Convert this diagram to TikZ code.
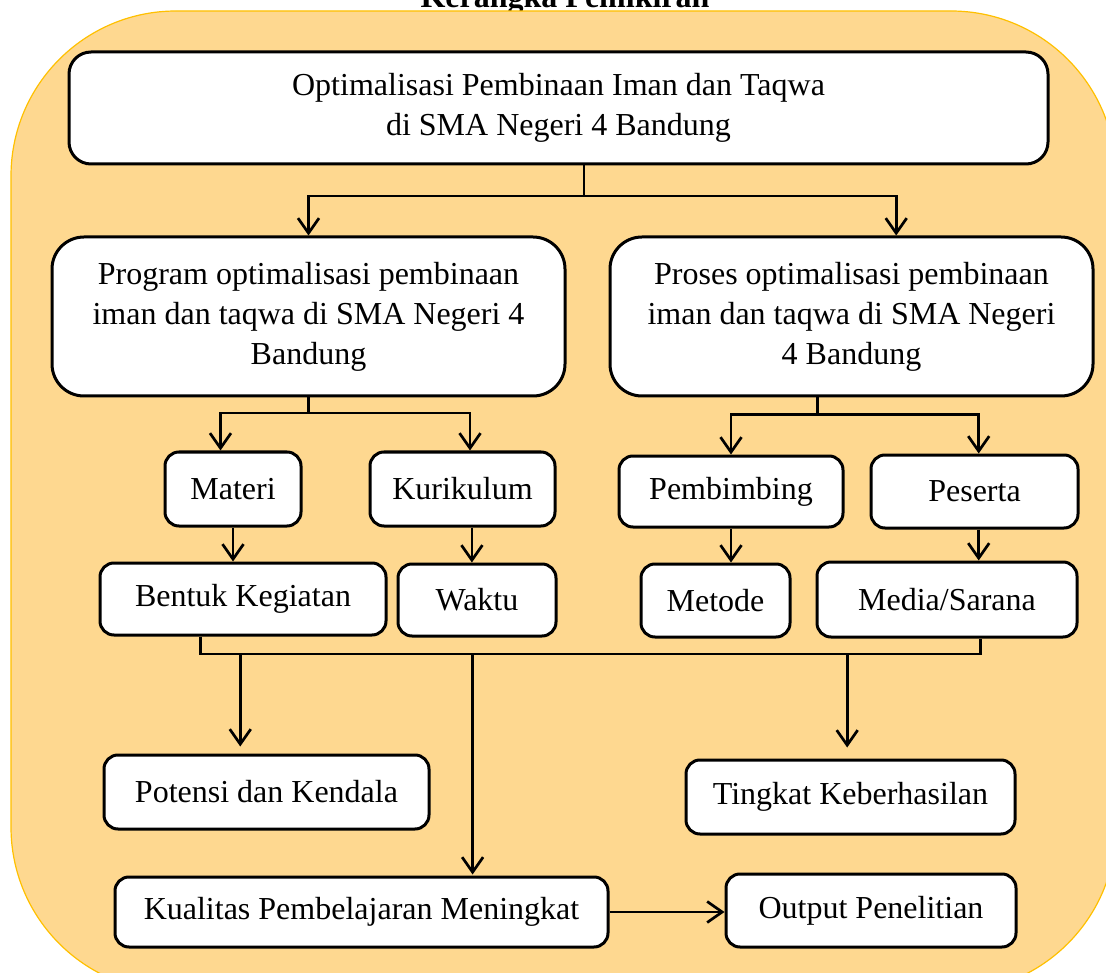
\documentclass[tikz,border=0pt]{standalone}
\usepackage{fontspec}
\setmainfont{Liberation Serif}
\usetikzlibrary{arrows.meta,calc}
\definecolor{bgfill}{RGB}{254,216,144}
\definecolor{bgline}{RGB}{255,192,0}
\tikzset{
  box/.style={draw=black, fill=white, line width=3pt, inner sep=0pt, align=center,
    font=\fontsize{32}{40}\selectfont, rounded corners=14pt},
  ln/.style={draw=black, line width=2.7pt},
  arr/.style={ln, -{Straight Barb[length=15pt,width=21pt,line width=2.7pt]}},
}
\newcommand{\bx}[7]{%
  \node[box, rounded corners=#7, minimum width={#4pt-#2pt}, minimum height={#5pt-#3pt}]
    (#1) at ({(#2+#4)/2},{(#3+#5)/2}) {#6};}
\begin{document}
\begin{tikzpicture}[x=1pt,y=-1pt]
\useasboundingbox (0,0) rectangle (1106,973);
\node[font=\bfseries\fontsize{32}{40}\selectfont, anchor=base] (title) at (565,8) {Kerangka Pemikiran};
\draw[fill=bgfill, draw=bgline, line width=1.2pt, rounded corners=165pt] (11,11) rectangle (1116,992);

\bx{top}{69}{52}{1048}{164}{Optimalisasi Pembinaan Iman dan Taqwa\\di SMA Negeri 4 Bandung}{22pt}
\bx{prog}{52}{237}{565}{396}{Program optimalisasi pembinaan\\iman dan taqwa di SMA Negeri 4\\Bandung}{32pt}
\bx{pros}{610}{237}{1093}{396}{Proses optimalisasi pembinaan\\iman dan taqwa di SMA Negeri\\4 Bandung}{32pt}
\bx{mat}{165}{452}{301}{526}{Materi}{14pt}
\bx{kur}{370}{452}{555}{526}{Kurikulum}{14pt}
\bx{bent}{100}{563}{386}{635}{Bentuk Kegiatan}{14pt}
\bx{wak}{398}{564}{556}{636}{Waktu}{14pt}
\bx{pemb}{619}{456}{843}{527}{Pembimbing}{14pt}
\bx{pes}{871}{455}{1078}{528}{Peserta}{14pt}
\bx{met}{641}{564}{790}{637}{Metode}{14pt}
\bx{med}{817}{562}{1077}{637}{Media/Sarana}{14pt}
\bx{pot}{104}{755}{429}{829}{Potensi dan Kendala}{14pt}
\bx{ting}{686}{760}{1015}{834}{Tingkat Keberhasilan}{14pt}
\bx{kual}{115}{877}{608}{947}{Kualitas Pembelajaran Meningkat}{14pt}
\bx{outp}{726}{874}{1016}{947}{Output Penelitian}{14pt}

% top -> prog / pros
\coordinate (j1) at (584,196);
\draw[ln] (top.south -| j1) -- (j1);
\draw[arr] (j1) -| (prog.north);
\coordinate (p1) at ($(pros.north west)!0.592!(pros.north east)$);
\draw[arr] (j1) -| (p1);

% prog -> materi / kurikulum
\coordinate (j2) at (308.5,413);
\draw[ln] (prog.south) -- (j2);
\coordinate (m1) at ($(mat.north west)!0.41!(mat.north east)$);
\coordinate (k1) at ($(kur.north west)!0.54!(kur.north east)$);
\draw[arr] (j2) -| (m1);
\draw[arr] (j2) -| (k1);
\draw[arr] (mat.south) -- (mat.south |- bent.north);
\coordinate (k2) at ($(kur.south west)!0.55!(kur.south east)$);
\draw[arr] (k2) -- (k2 |- wak.north);

% pros -> pembimbing / peserta
\coordinate (p2) at ($(pros.south west)!0.43!(pros.south east)$);
\coordinate (j3) at ($(p2)+(0,17)$);
\draw[ln] (p2) -- (j3);
\coordinate (e1) at ($(pes.north west)!0.52!(pes.north east)$);
\draw[arr] (j3) -| (pemb.north);
\draw[arr] (j3) -| (e1);
\draw[arr] (pemb.south) -- (pemb.south |- met.north);
\coordinate (e2) at ($(pes.south west)!0.52!(pes.south east)$);
\draw[arr] (e2) -- (e2 |- med.north);

% bottom bar
\coordinate (b1) at ($(bent.south west)!0.353!(bent.south east)$);
\coordinate (b2) at ($(med.south west)!0.627!(med.south east)$);
\coordinate (bar) at (0,654);
\draw[ln] (b1) -- (b1 |- bar) -- (b2 |- bar) -- (b2);
\coordinate (d1) at ($(pot.north west)!0.42!(pot.north east)$);
\coordinate (d2) at ($(kual.north west)!0.724!(kual.north east)$);
\coordinate (d3) at ($(ting.north west)!0.49!(ting.north east)$);
\draw[arr, shorten >=7pt] (d1 |- bar) -- (d1);
\draw[arr, shorten >=1pt] (d2 |- bar) -- (d2);
\draw[arr, shorten >=11pt] (d3 |- bar) -- (d3);

% kualitas -> output
\draw[arr] (kual.east) -- (kual.east -| outp.west);
\end{tikzpicture}
\end{document}
